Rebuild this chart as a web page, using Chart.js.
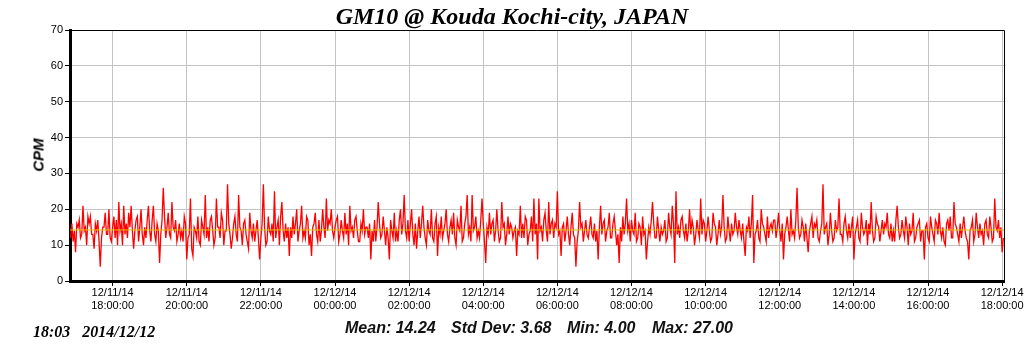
<!DOCTYPE html>
<html>
<head>
<meta charset="utf-8">
<script src="https://cdn.jsdelivr.net/npm/chart.js@4.4.1/dist/chart.umd.min.js"></script>
<style>
  html, body { margin: 0; padding: 0; background: #fff; }
  #wrap { position: relative; width: 1024px; height: 351px; overflow: hidden; background: #fff; }
  #c { position: absolute; left: 0; top: 0; }
  .t { position: absolute; white-space: pre; color: #000; }
  #title { left: 0; width: 1024px; top: 3px; text-align: center; font: italic bold 24px "Liberation Serif", "DejaVu Serif", serif; }
  #ylab { left: 38px; top: 155px; transform: translate(-50%, -50%) rotate(-90deg); font: italic bold 15px "Liberation Sans", Arial, sans-serif; }
  #stamp { left: 33px; top: 323px; font: italic bold 16px "Liberation Serif", "DejaVu Serif", serif; }
  .st { top: 319px; font: italic bold 16px "Liberation Sans", Arial, sans-serif; color: #111; }
</style>
</head>
<body>
<div id="wrap">
  <canvas id="c" width="1024" height="351"></canvas>
  <div class="t" id="title">GM10 @ Kouda Kochi-city, JAPAN</div>
  <div class="t" id="ylab">CPM</div>
  <div class="t" id="stamp">18:03   2014/12/12</div>
  <div class="t st" style="left:345px">Mean: 14.24</div>
  <div class="t st" style="left:451px">Std Dev: 3.68</div>
  <div class="t st" style="left:567px">Min: 4.00</div>
  <div class="t st" style="left:652px">Max: 27.00</div>
</div>
<script>
// Time axis in minutes since 2014/12/11 00:00
const startMinute = 1012;      // 12/11 16:52
const stepMinutes = 2;
const axisMin = 1011;
const axisMax = 2523;          // 12/12 18:03
const tickMinutes = [1080, 1200, 1320, 1440, 1560, 1680, 1800, 1920, 2040, 2160, 2280, 2400, 2520];
const tickDates = ['12/11/14', '12/11/14', '12/11/14', '12/12/14', '12/12/14', '12/12/14', '12/12/14', '12/12/14', '12/12/14', '12/12/14', '12/12/14', '12/12/14', '12/12/14'];
const tickTimes = ['18:00:00', '20:00:00', '22:00:00', '00:00:00', '02:00:00', '04:00:00', '06:00:00', '08:00:00', '10:00:00', '12:00:00', '14:00:00', '16:00:00', '18:00:00'];
const meanCPM = 14.24;

// CPM readings (2-minute steps)
const cpm1 = [12,16,11,14,8,16,15,17,12,13,21,14,15,10,18,16,18,13,13,9,16,14,17,11,4,12,15,15,19,13,
              13,20,12,11,15,18,12,17,10,22,14,16,10,21,13,16,12,19,15,21,14,9,14,17,18,11,15,20,13,10,
              15,12,17,21,14,11,17,21,13,11,16,14,5,13,17,26,18,12,15,19,13,12,22,15,14,17,11,13,16,12,
              14,11,18,16,6,12,13,23,9,7,15,14,12,18,11,10,17,15,13,24,12,15,11,17,18,14,10,12,23,15,
              15,12,19,17,10,14,14,27,16,13,9,12,16,18,13,11,24,15,14,10,16,17,13,11,9,19,14,12,16,11];
const cpm2 = [14,17,12,6,12,16,27,15,10,11,18,14,13,16,11,25,12,15,17,10,18,22,14,11,16,12,15,7,15,12,
              18,13,16,20,11,14,16,21,12,14,12,18,17,10,13,7,15,16,19,13,11,17,11,14,20,15,12,23,14,17,
              16,20,14,12,15,17,18,11,13,17,14,12,19,13,16,10,21,14,15,12,17,18,14,11,11,16,14,20,13,15,
              15,12,16,6,14,11,17,11,15,22,16,12,13,18,14,10,15,12,6,17,14,12,19,11,14,11,17,20,13,16,
              24,14,12,17,11,16,20,13,10,16,9,14,18,12,16,21,15,12,10,17,14,13,20,12,11,16,18,7,15,13];
const cpm3 = [18,12,14,16,20,13,11,15,17,13,19,12,10,17,15,14,21,11,12,16,18,24,13,15,11,24,14,15,18,12,
              14,12,17,23,16,11,5,15,13,19,13,16,17,11,14,20,14,11,12,22,15,16,10,13,18,13,16,15,12,14,
              15,7,14,13,21,12,16,12,18,17,10,13,14,18,11,23,13,16,6,23,14,15,11,17,19,14,11,22,13,16,
              17,12,16,15,25,13,14,7,15,16,11,14,18,13,10,15,19,13,12,4,11,14,22,15,16,11,14,17,13,12,
              15,18,13,12,16,11,14,6,15,21,13,16,17,11,14,15,19,12,12,16,18,14,10,13,5,15,11,18,13,16];
const cpm4 = [23,14,16,11,17,14,13,19,11,12,16,15,10,18,13,14,6,11,15,13,17,22,16,12,12,18,14,11,15,13,
              14,17,11,12,19,15,13,21,16,5,25,13,15,12,17,18,14,12,16,11,14,20,13,17,15,10,13,17,14,12,
              23,13,17,16,11,14,18,14,11,12,19,16,15,10,13,17,13,15,24,15,11,12,18,14,11,16,13,14,19,15,
              13,17,14,12,16,11,7,15,14,18,12,16,24,5,13,14,17,12,11,20,16,15,13,11,18,12,15,16,14,17,
              17,12,15,19,14,11,16,6,13,15,18,14,11,20,13,14,12,17,26,15,12,13,17,15,11,16,12,8,14,16];
const cpm5 = [18,12,16,15,17,12,11,14,16,27,13,15,16,10,13,19,14,11,12,17,14,15,23,13,13,11,16,18,14,12,
              16,12,15,18,6,13,15,17,12,11,19,15,13,14,17,10,16,13,22,14,11,12,18,16,15,11,14,17,13,16,
              15,19,13,12,16,11,14,11,17,21,15,12,13,17,14,12,18,15,10,16,13,14,19,11,12,15,16,17,11,14,
              14,6,15,16,12,11,18,15,13,11,17,16,13,19,14,12,15,11,10,16,17,14,18,12,12,22,16,15,13,11,
              16,12,15,18,14,12,11,6,14,15,17,11,13,19,15,12,16,13,14,10,16,17,13,12,18,15,11,12,23,15,
              14,17,12,15,8,12];

const cpmValues = [].concat(cpm1, cpm2, cpm3, cpm4, cpm5);
const points = cpmValues.map((v, i) => ({ x: startMinute + i * stepMinutes, y: v }));

const frame = {
  id: 'frame',
  afterDraw(chart) {
    const { ctx, chartArea: a } = chart;
    ctx.save();
    ctx.strokeStyle = '#000';
    ctx.lineWidth = 1;
    ctx.beginPath();
    ctx.moveTo(a.left, a.top + 0.5);
    ctx.lineTo(a.right + 0.5, a.top + 0.5);
    ctx.lineTo(a.right + 0.5, a.bottom);
    ctx.stroke();
    ctx.restore();
  }
};

Chart.defaults.font.family = '"Liberation Sans", Arial, sans-serif';
Chart.defaults.color = '#000';

new Chart(document.getElementById('c'), {
  type: 'line',
  data: {
    datasets: [
      { label: 'Mean', data: [{ x: axisMin, y: meanCPM }, { x: axisMax, y: meanCPM }],
        borderColor: '#d9c200', borderWidth: 1, pointRadius: 0, tension: 0 },
      { label: 'CPM', data: points, borderColor: '#ff0000', borderWidth: 1.3,
        pointRadius: 0, tension: 0 }
    ]
  },
  options: {
    responsive: false,
    animation: false,
    devicePixelRatio: 1,
    layout: { padding: { left: 0, right: 20, top: 30, bottom: 0 } },
    plugins: { legend: { display: false }, tooltip: { enabled: false }, title: { display: false } },
    scales: {
      x: {
        type: 'linear',
        min: axisMin,
        max: axisMax,
        afterBuildTicks(scale) { scale.ticks = tickMinutes.map(v => ({ value: v })); },
        afterFit(scale) { scale.height = 70; },
        ticks: {
          autoSkip: false,
          maxRotation: 0,
          padding: 0,
          font: { size: 11 },
          color: '#000',
          callback(value) {
            const i = tickMinutes.indexOf(value);
            return i < 0 ? '' : [tickDates[i], tickTimes[i]];
          }
        },
        grid: { color: '#c4c4c4', lineWidth: 1, tickLength: 5, tickColor: '#000' },
        border: { color: '#000', width: 3 }
      },
      y: {
        min: 0,
        max: 70,
        afterFit(scale) { scale.width = 70; },
        ticks: { stepSize: 10, padding: 2, font: { size: 11 }, color: '#000' },
        grid: { color: '#c4c4c4', lineWidth: 1, tickLength: 5, tickColor: '#000' },
        border: { color: '#000', width: 3 }
      }
    }
  },
  plugins: [frame]
});
</script>
</body>
</html>
